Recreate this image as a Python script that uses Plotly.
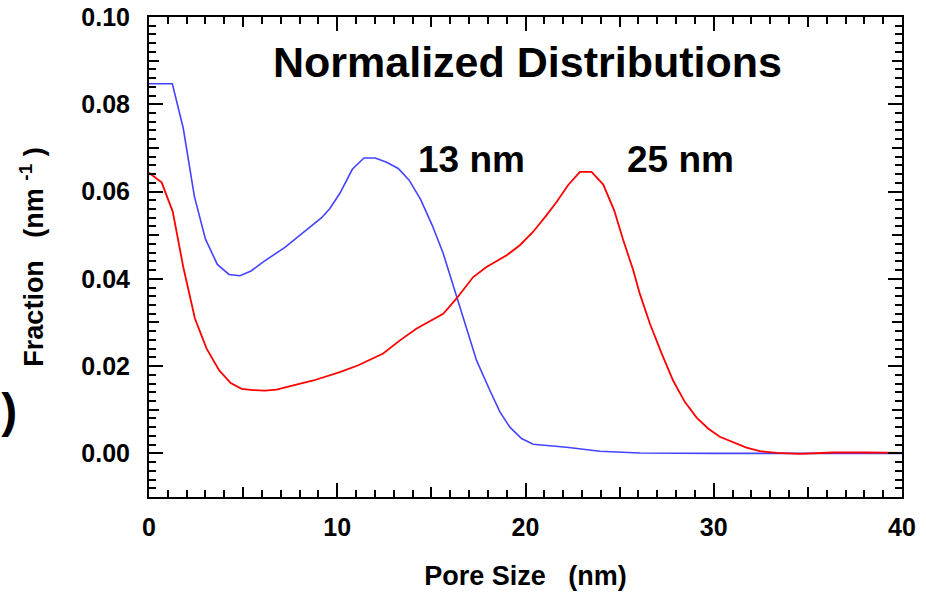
import plotly.graph_objects as go

# ---- data ----
blue_x = [0, 1.24, 1.82, 2.41, 3.0, 3.63, 4.25, 4.83, 5.42, 6.07, 7.22, 8.37, 9.17, 9.61,
          10.14, 10.8, 11.42, 12.02, 12.62, 13.24, 13.82, 14.44, 15.05, 15.63, 16.34, 16.78,
          17.4, 18.11, 18.64, 19.17, 19.79, 20.41, 22.18, 23.95, 26.07, 30.0, 35.0, 40.0]
blue_y = [0.0847, 0.0847, 0.0745, 0.0589, 0.0491, 0.0433, 0.0410, 0.0407, 0.0418, 0.0439,
          0.0472, 0.0511, 0.0540, 0.0561, 0.0596, 0.0651, 0.0677, 0.0677, 0.0667, 0.0653,
          0.0626, 0.0581, 0.0522, 0.0458, 0.0359, 0.0303, 0.0213, 0.0144, 0.0095, 0.0060,
          0.0034, 0.0021, 0.0014, 0.0005, 0.0001, 0.0, 0.0, 0.0]

red_x = [0, 0.67, 1.26, 1.82, 2.44, 3.06, 3.73, 4.34, 4.92, 5.54, 6.16, 6.78, 7.4, 8.73,
         10.14, 11.12, 12.44, 13.33, 14.22, 15.01, 15.63, 16.34, 17.22, 17.93, 19.0, 19.7,
         20.41, 21.12, 21.65, 22.27, 22.89, 23.51, 24.13, 24.71, 25.19, 25.72, 26.07, 26.61,
         27.23, 27.84, 28.46, 29.09, 29.7, 30.32, 31.03, 31.74, 32.45, 33.33, 34.57, 36.34,
         38.1, 40.0]
red_y = [0.0643, 0.0621, 0.0554, 0.0427, 0.0309, 0.0240, 0.0190, 0.0161, 0.0148, 0.0145,
         0.0144, 0.0146, 0.0153, 0.0167, 0.0186, 0.0202, 0.0229, 0.0259, 0.0286, 0.0305,
         0.0320, 0.0355, 0.0404, 0.0427, 0.0454, 0.0477, 0.0508, 0.0546, 0.0576, 0.0615,
         0.0645, 0.0645, 0.0616, 0.0557, 0.0489, 0.0420, 0.0366, 0.0297, 0.0229, 0.0167,
         0.0118, 0.0082, 0.0057, 0.0038, 0.0025, 0.0013, 0.0005, 0.0001, -0.0001, 0.0002,
         0.0002, 0.0001]

x_major = [0, 10, 20, 30, 40]
x_major_text = ["0", "10", "20", "30", "40"]
x_mid = [5, 15, 25, 35]
y_major = [0.0, 0.02, 0.04, 0.06, 0.08, 0.10]
y_major_text = ["0.00", "0.02", "0.04", "0.06", "0.08", "0.10"]
y_mid = [-0.01, 0.01, 0.03, 0.05, 0.07, 0.09]

labels = ["Normalized Distributions", "13 nm", "25 nm"]
label_x = [20.1, 17.15, 28.23]
label_y = [0.0898, 0.0673, 0.0673]
label_size = [43, 37, 37]

FONT = "Liberation Sans, Arial, Helvetica, sans-serif"
XR = [0, 40]
YR = [-0.01, 0.10]

fig = go.Figure()
fig.add_trace(go.Scatter(x=blue_x, y=blue_y, mode="lines",
                         line=dict(color="#4444ff", width=1.6), showlegend=False))
fig.add_trace(go.Scatter(x=red_x, y=red_y, mode="lines",
                         line=dict(color="#ff0000", width=1.8), showlegend=False))
# dummy trace to create the overlay axes used for the medium-length ticks
fig.add_trace(go.Scatter(x=[None], y=[None], xaxis="x2", yaxis="y2",
                         showlegend=False, hoverinfo="skip"))

tickfont = dict(family=FONT, size=25, color="black", weight="bold")
titlefont = dict(family=FONT, size=27, color="black", weight="bold")

fig.update_layout(
    width=926, height=594,
    margin=dict(l=149, r=24, t=17, b=97, autoexpand=False),
    paper_bgcolor="white", plot_bgcolor="white",
    xaxis=dict(range=XR, showgrid=False, zeroline=False, automargin=False,
               showline=True, linecolor="black", linewidth=2, mirror="ticks",
               ticks="inside", ticklen=14, tickwidth=2, tickcolor="black",
               tickmode="array", tickvals=x_major, ticktext=x_major_text,
               tickfont=tickfont, ticklabelstandoff=7,
               minor=dict(dtick=1, ticks="inside", ticklen=7, tickwidth=2,
                          tickcolor="black", showgrid=False),
               title=dict(text="Pore Size   (nm)", font=titlefont, standoff=26)),
    yaxis=dict(range=YR, showgrid=False, zeroline=False, automargin=False,
               showline=True, linecolor="black", linewidth=2, mirror="ticks",
               ticks="inside", ticklen=14, tickwidth=2, tickcolor="black",
               tickmode="array", tickvals=y_major, ticktext=y_major_text,
               tickfont=tickfont, ticklabelstandoff=12,
               minor=dict(dtick=0.002, tick0=0, ticks="inside", ticklen=7, tickwidth=2,
                          tickcolor="black", showgrid=False),
               title=dict(text="Fraction   (nm <sup>-1</sup> )", font=titlefont, standoff=30)),
    xaxis2=dict(range=XR, overlaying="x", anchor="y2", showgrid=False, zeroline=False,
                automargin=False,
                showline=False, mirror="ticks", ticks="inside", ticklen=10, tickwidth=2,
                tickcolor="black", tickmode="array", tickvals=x_mid,
                showticklabels=False),
    yaxis2=dict(range=YR, overlaying="y", anchor="x2", showgrid=False, zeroline=False,
                automargin=False,
                showline=False, mirror="ticks", ticks="inside", ticklen=10, tickwidth=2,
                tickcolor="black", tickmode="array", tickvals=y_mid,
                showticklabels=False),
)

for t, lx, ly, s in zip(labels, label_x, label_y, label_size):
    fig.add_annotation(x=lx, y=ly, xref="x", yref="y", text=t, showarrow=False,
                       xanchor="center", yanchor="middle",
                       font=dict(family=FONT, size=s, color="black", weight="bold"))

# partially cut-off panel label at the far left
fig.add_annotation(x=-0.172, y=0.181, xref="paper", yref="paper", text="b)", showarrow=False,
                   xanchor="right", yanchor="middle",
                   font=dict(family=FONT, size=48, color="black", weight="bold"))

fig.write_html("out.html")
